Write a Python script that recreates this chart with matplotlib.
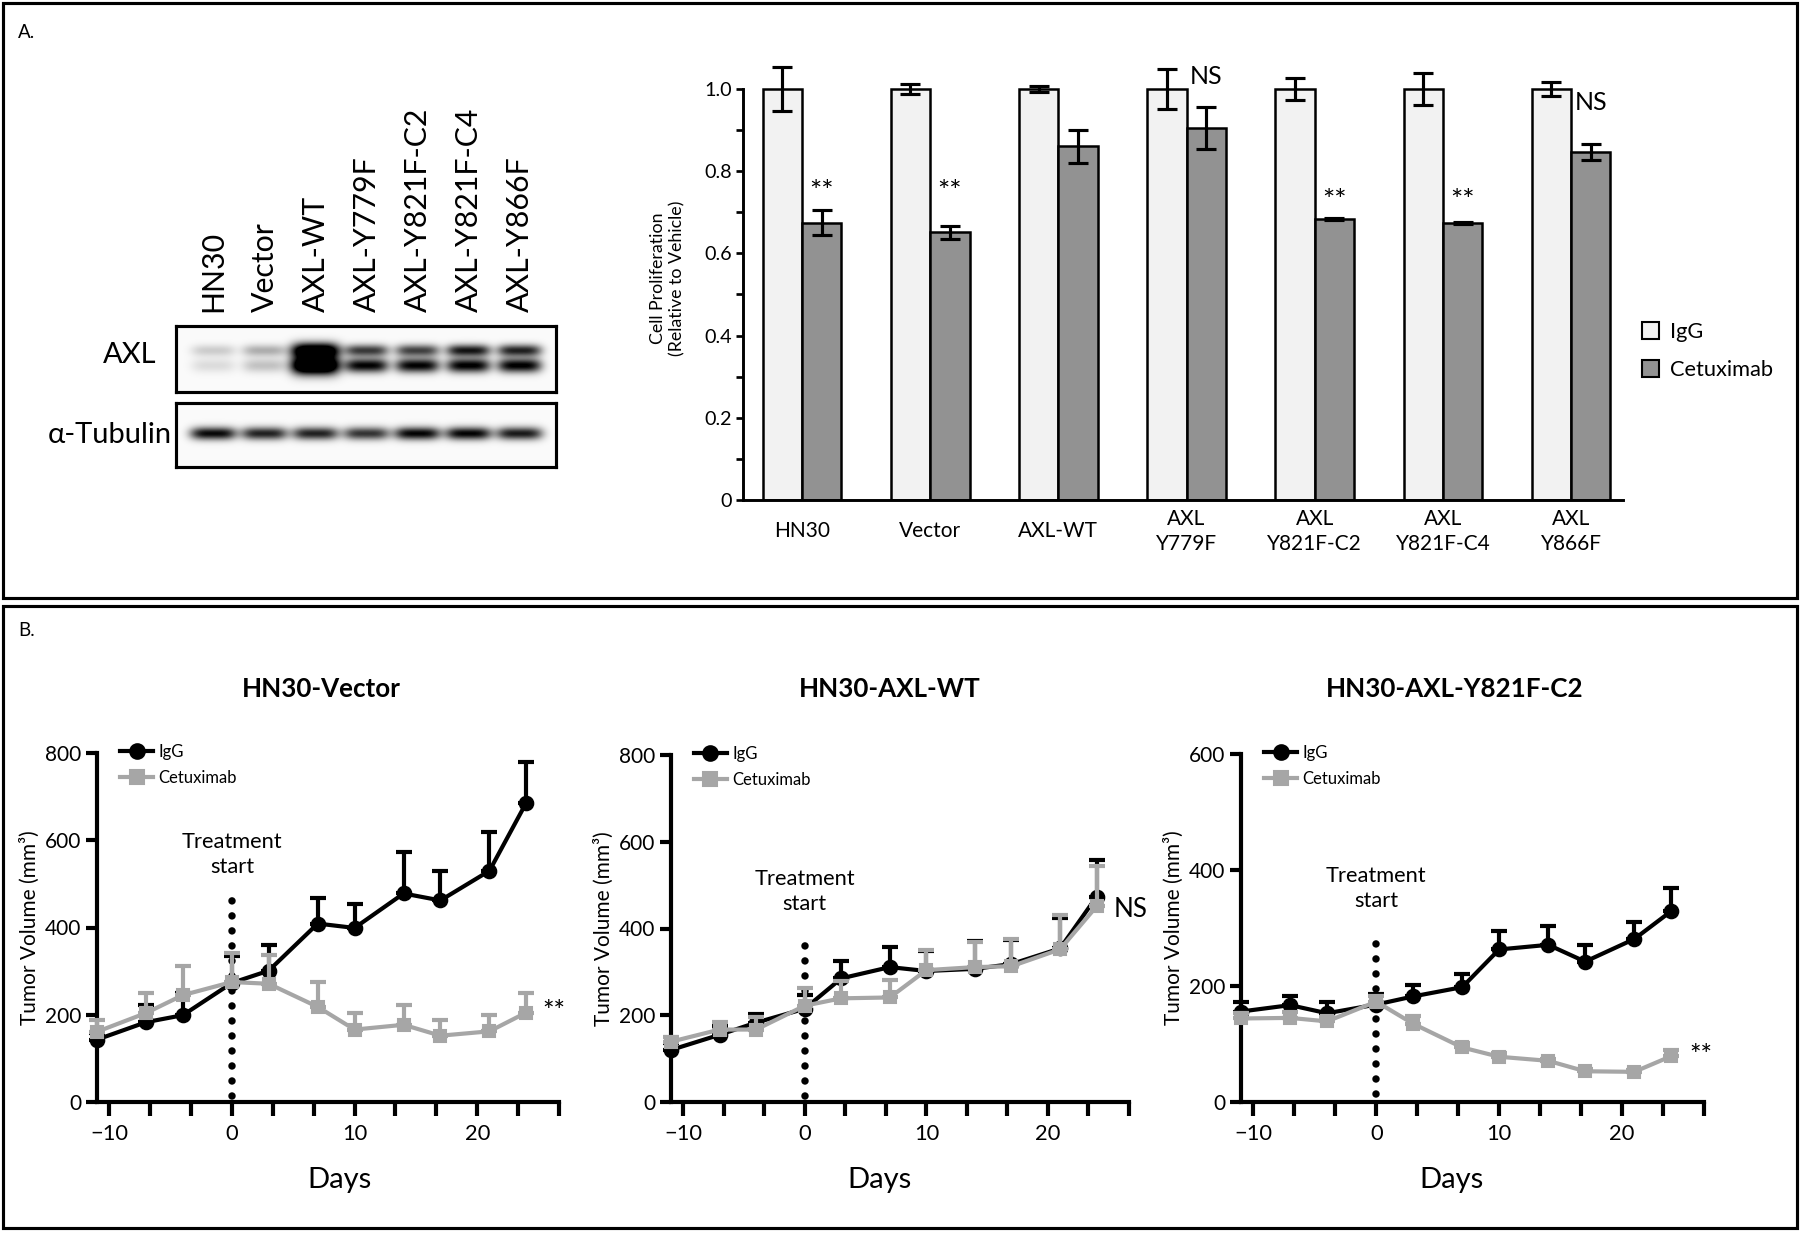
import numpy as np
import matplotlib
matplotlib.use('Agg')
import matplotlib.pyplot as plt
from matplotlib.patches import Rectangle, Patch
from matplotlib.lines import Line2D

plt.rcParams['font.family'] = ['Lato', 'DejaVu Sans']

# ---------------- data ----------------
lanes = ["HN30", "Vector", "AXL-WT", "AXL-Y779F", "AXL-Y821F-C2", "AXL-Y821F-C4", "AXL-Y866F"]
axl_upper = [0.18, 0.30, 1.35, 0.75, 0.72, 0.90, 0.85]
axl_lower = [0.12, 0.22, 1.6, 0.98, 0.98, 1.00, 1.00]
tubulin = [0.95, 0.85, 0.85, 0.78, 0.97, 0.97, 0.88]

bar_groups = ["HN30", "Vector", "AXL-WT", "AXL\nY779F", "AXL\nY821F-C2", "AXL\nY821F-C4", "AXL\nY866F"]
igg_prolif = [1.0, 1.0, 1.0, 1.0, 1.0, 1.0, 1.0]
igg_err = [0.053, 0.012, 0.007, 0.048, 0.027, 0.039, 0.018]
cetux_prolif = [0.675, 0.651, 0.860, 0.905, 0.684, 0.674, 0.846]
cetux_err = [0.031, 0.015, 0.040, 0.050, 0.003, 0.003, 0.019]
bar_marks = ["**", "**", "", "NS", "**", "**", "NS"]
bar_mark_y = [0.748, 0.748, 0, 1.03, 0.725, 0.725, 0.967]

days = [-11, -7, -4, 0, 3, 7, 10, 14, 17, 21, 24]
vec_igg = [143, 183, 199, 273, 301, 409, 399, 478, 462, 530, 686]
vec_igg_err = [15, 39, 50, 62, 58, 58, 56, 94, 68, 88, 94]
vec_cet = [161, 204, 245, 275, 271, 218, 166, 177, 152, 162, 205]
vec_cet_err = [28, 45, 66, 67, 67, 57, 38, 45, 37, 38, 45]

wt_igg = [120, 155, 183, 215, 285, 311, 302, 307, 318, 354, 473]
wt_igg_err = [15, 20, 21, 32, 40, 47, 46, 64, 55, 71, 86]
wt_cet = [139, 167, 167, 222, 239, 241, 304, 311, 313, 352, 451]
wt_cet_err = [12, 18, 30, 40, 39, 40, 46, 58, 62, 79, 92]

y821_igg = [156, 167, 153, 168, 182, 198, 263, 271, 242, 281, 329]
y821_igg_err = [17, 15, 19, 19, 19, 22, 31, 32, 29, 30, 40]
y821_cet = [144, 145, 139, 173, 135, 94, 78, 71, 53, 52, 79]
y821_cet_err = [10, 10, 8, 9, 13, 7, 7, 4, 4, 4, 10]

# ---------------- figure ----------------
W, H = 1800, 1233
fig = plt.figure(figsize=(12, 8.22), dpi=150)


def box(l, t, r, b):
    return [l / W, 1 - b / H, (r - l) / W, (b - t) / H]


# panel frames
fig.add_artist(Rectangle((3 / W, 1 - 598 / H), 1794 / W, 595 / H, transform=fig.transFigure,
                         fill=False, lw=1.5, ec='black'))
fig.add_artist(Rectangle((3 / W, 1 - 1228 / H), 1794 / W, 622 / H, transform=fig.transFigure,
                         fill=False, lw=1.5, ec='black'))
fig.text(18 / W, 1 - 33 / H, "A.", fontsize=9, va='center', ha='left')
fig.text(18 / W, 1 - 630 / H, "B.", fontsize=9, va='center', ha='left')

# ---------------- western blot ----------------
pitch, first = 51, 37


def blot(rows, cols, bands):
    yy = np.arange(rows)[:, None]
    xx = np.arange(cols)[None, :]
    img = np.zeros((rows, cols)) + 0.02
    for rc, sr, ints, hw in bands:
        for i, a in enumerate(ints):
            c = first + pitch * i
            w = hw * (1.1 if a > 1.2 else 1.0)
            s = sr * (1.3 if a > 1.2 else 1.0)
            img += a * np.exp(-((yy - rc) / s) ** 2 / 2) * np.exp(-(np.abs(xx - c) / w) ** 4)
    return np.clip(img, 0, 1)


ax_axl = fig.add_axes(box(176, 326, 556, 392))
img_axl = blot(66, 380, [(24, 4.2, axl_upper, 22), (39, 5.0, axl_lower, 22)])
ax_axl.imshow(img_axl, cmap='gray_r', vmin=0, vmax=1, aspect='auto', interpolation='bilinear')
ax_tub = fig.add_axes(box(176, 403, 556, 467))
img_tub = blot(64, 380, [(30, 4.5, tubulin, 23)])
ax_tub.imshow(img_tub, cmap='gray_r', vmin=0, vmax=1, aspect='auto', interpolation='bilinear')
for a in (ax_axl, ax_tub):
    a.set_xticks([])
    a.set_yticks([])
    for s in a.spines.values():
        s.set_linewidth(1.5)
for i, name in enumerate(lanes):
    ax_axl.text(first + pitch * i, -15, name, rotation=90, ha='center', va='bottom',
                fontsize=14.5, clip_on=False)
fig.text(130 / W, 1 - 355 / H, "AXL", fontsize=14, ha='center', va='center')
fig.text(110 / W, 1 - 435 / H, "\u03b1-Tubulin", fontsize=14, ha='center', va='center')

# ---------------- bar chart ----------------
axb = fig.add_axes(box(743, 47.8, 1623, 500))
x = np.arange(len(bar_groups))
w = 0.307
ek = dict(elinewidth=1.5, capthick=1.5, ecolor='black')
axb.bar(x - w / 2, igg_prolif, w, color='#f2f2f2', edgecolor='black', lw=1.2,
        yerr=igg_err, capsize=5, error_kw=ek, label='IgG')
axb.bar(x + w / 2, cetux_prolif, w, color='#929292', edgecolor='black', lw=1.2,
        yerr=cetux_err, capsize=5, error_kw=ek, label='Cetuximab')
for i, (m, my) in enumerate(zip(bar_marks, bar_mark_y)):
    if m == "**":
        axb.text(x[i] + w / 2, my, m, ha='center', va='center', fontsize=14)
    elif m:
        axb.text(x[i] + w / 2, my, m, ha='center', va='center', fontsize=12)
axb.set_xlim(-0.46, 6.405)
axb.set_ylim(0, 1.1)
axb.spines['left'].set_bounds(0, 1.0)
axb.spines['top'].set_visible(False)
axb.spines['right'].set_visible(False)
for s in ('left', 'bottom'):
    axb.spines[s].set_linewidth(1.4)
axb.set_yticks([0, 0.2, 0.4, 0.6, 0.8, 1.0])
axb.set_yticklabels(["0", "0.2", "0.4", "0.6", "0.8", "1.0"], fontsize=9.5)
axb.set_yticks([0.1, 0.3, 0.5, 0.7, 0.9], minor=True)
axb.tick_params(axis='y', which='both', length=3.5, width=1.3, direction='out', pad=2)
axb.set_xticks(x)
axb.set_xticklabels(bar_groups, fontsize=10, linespacing=1.3)
for lab in axb.get_xticklabels():
    lab.set_verticalalignment('center')
axb.tick_params(axis='x', length=0, pad=15)
axb.set_ylabel("Cell Proliferation\n(Relative to Vehicle)", fontsize=8.5, linespacing=1.2)
axb.yaxis.set_label_coords(-58 / 880, 0.54 / 1.1)
hb = [Patch(facecolor='#f2f2f2', edgecolor='black', lw=1.0),
      Patch(facecolor='#929292', edgecolor='black', lw=1.0)]
fig.legend(hb, ['IgG', 'Cetuximab'], loc='center left', bbox_to_anchor=(1622 / W, 1 - 351 / H),
           frameon=False, fontsize=10.5, handlelength=0.8, handleheight=0.8,
           handletextpad=0.5, labelspacing=0.8)

# ---------------- tumor growth panels ----------------
gray = '#a6a6a6'


def growth(rect, igg, igg_e, cet, cet_e, ymax, title, mark, mark_xy, dot_top, treat_y, title_x,
           days_x):
    ax = fig.add_axes(box(*rect))
    z = np.zeros(len(days))
    ax.plot([0, 0], [14, dot_top], color='black', lw=3.6, ls=(0, (0.001, 2.0)),
            dash_capstyle='round', zorder=2)
    ax.errorbar(days, igg, yerr=[z, igg_e], color='black', marker='o', ms=6.5, lw=2,
                capsize=4, capthick=2, elinewidth=2, zorder=3)
    ax.errorbar(days, cet, yerr=[z, cet_e], color=gray, marker='s', ms=6, lw=2,
                capsize=4, capthick=2, elinewidth=2, zorder=4)
    for ch in ax.get_children():
        ch.set_clip_on(False)
    ax.set_xlim(-11, 26.67)
    ax.set_ylim(0, ymax)
    ax.spines['top'].set_visible(False)
    ax.spines['right'].set_visible(False)
    for s in ('left', 'bottom'):
        ax.spines[s].set_linewidth(2)
    ax.set_xticks([-10, 0, 10, 20])
    ax.set_xticks([t for t in np.arange(-10, 27, 10 / 3) if abs(round(t / 10) * 10 - t) > 0.1],
                  minor=True)
    ax.tick_params(axis='x', which='both', length=6.5, width=2, labelsize=10.5, pad=4)
    ax.set_yticks(np.arange(0, ymax + 1, 200))
    ax.tick_params(axis='y', which='both', length=5.5, width=2, labelsize=10, pad=2)
    ax.set_ylabel("Tumor Volume (mm\u00b3)", fontsize=10)
    ax.yaxis.set_label_coords(-57 / (rect[2] - rect[0]), 0.5)
    ax.text(0, treat_y, "Treatment\nstart", ha='center', va='center', fontsize=10.5,
            linespacing=1.3)
    ax.text(mark_xy[0], mark_xy[1], mark, ha='left', va='center',
            fontsize=12.5 if mark == "NS" else 13)
    hl = [Line2D([], [], color='black', marker='o', ms=7, lw=2),
          Line2D([], [], color=gray, marker='s', ms=6.5, lw=2)]
    ax.legend(hl, ['IgG', 'Cetuximab'], loc='upper left', bbox_to_anchor=(0.035, 1.045),
              frameon=False, fontsize=8, handlelength=2.0, handletextpad=0.3,
              labelspacing=0.6, borderaxespad=0)
    fig.text(title_x / W, 1 - 689 / H, title, fontsize=12.5, fontweight='bold', ha='center',
             va='center')
    fig.text(days_x / W, 1 - 1180 / H, "Days", fontsize=14, ha='center', va='center')
    return ax


growth((97, 753, 559, 1102), vec_igg, vec_igg_err, vec_cet, vec_cet_err, 800, "HN30-Vector",
       "**", (25.3, 206), 490, 567, 321, 339)
growth((671, 755, 1129, 1102), wt_igg, wt_igg_err, wt_cet, wt_cet_err, 800, "HN30-AXL-WT",
       "NS", (25.4, 443), 394, 485, 890, 880)
growth((1241, 754, 1704, 1102), y821_igg, y821_igg_err, y821_cet, y821_cet_err, 600,
       "HN30-AXL-Y821F-C2", "**", (25.5, 79), 294, 368, 1455, 1452)

fig.savefig("out.png", dpi=150)
